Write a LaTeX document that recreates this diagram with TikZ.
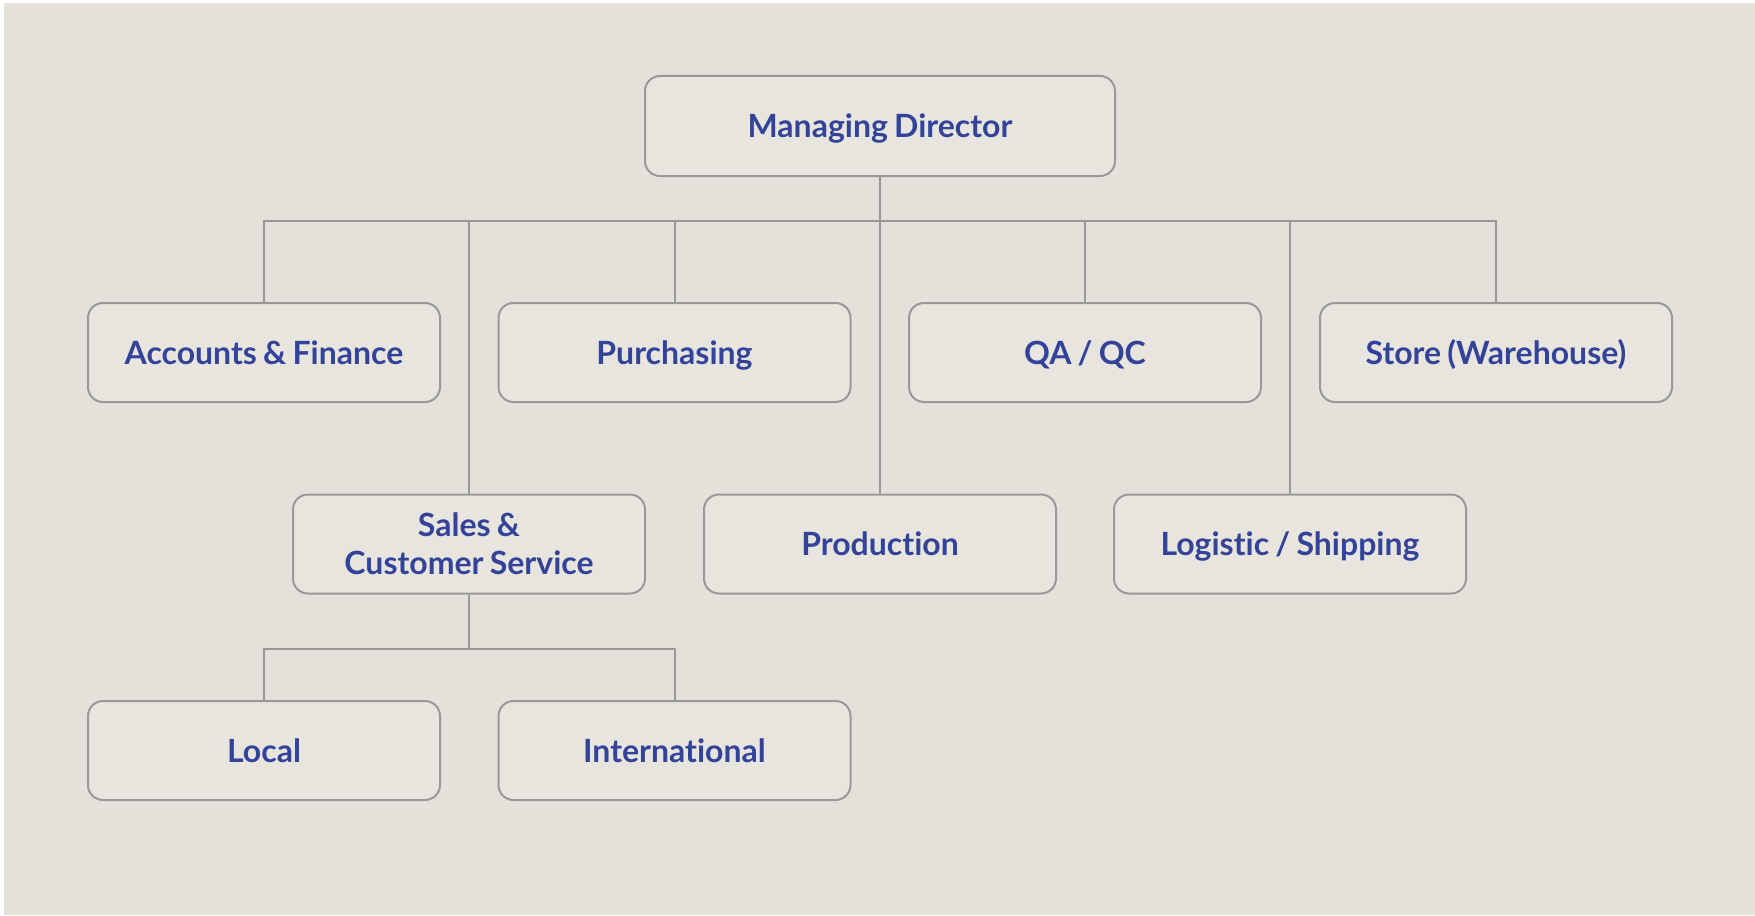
\documentclass[tikz,border=0pt]{standalone}
\usepackage{fontspec}
\setmainfont[Ligatures=NoCommon,WordSpace=0.8]{Lato}
\definecolor{bgc}{HTML}{E3E1D9}
\definecolor{boxc}{HTML}{E7E5DE}
\definecolor{linec}{HTML}{999999}
\definecolor{txtc}{HTML}{34439A}
\tikzset{
  unit/.style={rounded corners=15pt, draw=linec, line width=2pt, fill=boxc,
    minimum width=352pt, minimum height=99pt, inner sep=0pt,
    text height=23pt, text depth=0pt,
    text=txtc, font=\fontsize{32}{38}\selectfont\bfseries, align=center},
  conn/.style={draw=linec, line width=2pt}
}
\begin{document}
\begin{tikzpicture}[x=1pt,y=-1pt]
\fill[white] (0,0) rectangle (1755,915);
\fill[bgc] (4,3) rectangle (1755,915);
\useasboundingbox (0,0) rectangle (1755,915);
\node[unit, minimum width=470pt, minimum height=100pt] (md) at (880,126) {Managing Director};
\node[unit] (acc) at (264,352.5) {Accounts \& Finance};
\node[unit] (pur) at (674.5,352.5) {Purchasing};
\node[unit] (qa) at (1085,352.5) {QA / QC};
\node[unit] (st) at (1496,352.5) {Store (Warehouse)};
\node[unit, text height=61pt] (sal) at (469,544) {Sales \&\\Customer Service};
\node[unit] (pro) at (880,544) {Production};
\node[unit] (log) at (1290,544) {Logistic / Shipping};
\node[unit] (loc) at (264,750.5) {Local};
\node[unit] (int) at (674.5,750.5) {International};
\coordinate (bus) at (880,221);
\coordinate (sbus) at (469,649);
\draw[conn] (md.south) -- (bus);
\draw[conn] (acc.north) |- (bus);
\draw[conn] (st.north) |- (bus);
\draw[conn] (pur.north) -- (pur.north |- bus);
\draw[conn] (qa.north) -- (qa.north |- bus);
\draw[conn] (sal.north) -- (sal.north |- bus);
\draw[conn] (pro.north) -- (bus);
\draw[conn] (log.north) -- (log.north |- bus);
\draw[conn] (sal.south) -- (sbus);
\draw[conn] (loc.north) |- (sbus);
\draw[conn] (int.north) |- (sbus);
\end{tikzpicture}
\end{document}
